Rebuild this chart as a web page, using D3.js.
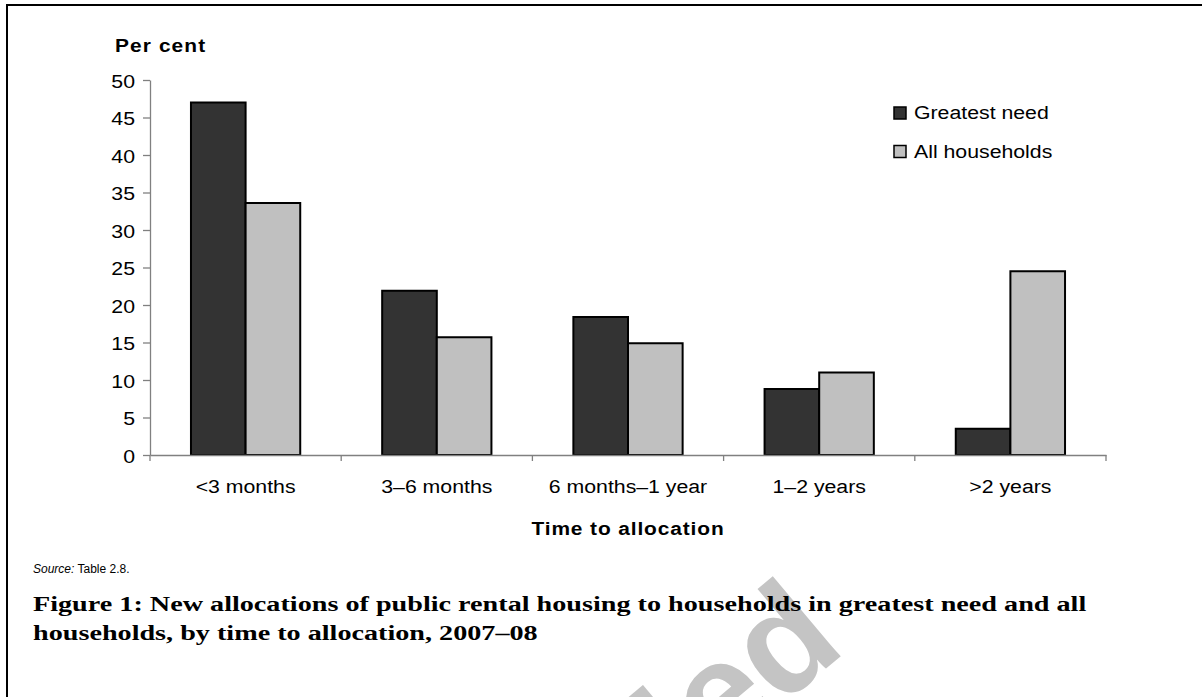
<!DOCTYPE html>
<html>
<head>
<meta charset="utf-8">
<script src="https://cdn.jsdelivr.net/npm/d3@7/dist/d3.min.js"></script>
<style>
  html, body { margin: 0; padding: 0; background: #ffffff; }
  svg { display: block; }
</style>
</head>
<body>
<svg id="chart" width="1202" height="697"></svg>
<script>
// ---- data ----
const categories = ["<3 months", "3\u20136 months", "6 months\u20131 year", "1\u20132 years", ">2 years"];
const seriesNames = ["Greatest need", "All households"];
const greatestNeed = [47.0, 21.9, 18.4, 8.8, 3.5];
const allHouseholds = [33.6, 15.7, 14.9, 11.0, 24.5];
const yTickValues = [0, 5, 10, 15, 20, 25, 30, 35, 40, 45, 50];
const yAxisTitle = "Per cent";
const xAxisTitle = "Time to allocation";
const sourceNote = ["Source:", " Table 2.8."];
const captionLines = [
  "Figure 1: New allocations of public rental housing to households in greatest need and all",
  "households, by time to allocation, 2007\u201308"
];
const watermarkText = "Cancelled";

// ---- layout/style ----
const seriesColors = ["#333333", "#c0c0c0"];
const axisColor = "#808080";
const sansFont = "Arial, 'Liberation Sans', Helvetica, sans-serif";
const serifFont = "'Palatino Linotype', 'Book Antiqua', 'Liberation Serif', 'DejaVu Serif', serif";
const sx = 1.12;   // horizontal stretch of chart text

const svg = d3.select("#chart");

// watermark (behind everything), clipped to the page like the reference
svg.append("defs").append("clipPath").attr("id", "page")
  .append("rect").attr("x", 0).attr("y", 0).attr("width", 1202).attr("height", 697);
svg.append("g").attr("clip-path", "url(#page)")
  .append("text")
  .attr("transform", "translate(848,650) rotate(-40)")
  .attr("text-anchor", "end")
  .attr("font-family", sansFont)
  .attr("font-weight", "bold")
  .attr("font-size", 145)
  .attr("fill", "#c4c4c4")
  .text(watermarkText);

// frame
svg.append("rect")
  .attr("x", 7).attr("y", 5)
  .attr("width", 1215).attr("height", 720)
  .attr("fill", "none")
  .attr("stroke", "#000")
  .attr("stroke-width", 2);

const plot = { left: 150, right: 1106, top: 80, bottom: 455 };

const x = d3.scaleBand()
  .domain(categories)
  .range([plot.left, plot.right])
  .paddingInner(0).paddingOuter(0);

const x1 = d3.scaleBand()
  .domain(seriesNames)
  .range([0, x.bandwidth()])
  .paddingInner(0)
  .paddingOuter(0.75);

const y = d3.scaleLinear()
  .domain([0, 50])
  .range([plot.bottom, plot.top]);

// bars
const rows = categories.map((c, i) => ({ cat: c, vals: [greatestNeed[i], allHouseholds[i]] }));
const groups = svg.append("g").selectAll("g")
  .data(rows).enter().append("g")
  .attr("transform", d => `translate(${x(d.cat)},0)`);

groups.selectAll("rect")
  .data(d => d.vals.map((v, j) => ({ s: seriesNames[j], v, j })))
  .enter().append("rect")
  .attr("x", d => x1(d.s))
  .attr("y", d => y(d.v))
  .attr("width", x1.bandwidth())
  .attr("height", d => y(0) - y(d.v))
  .attr("fill", d => seriesColors[d.j])
  .attr("stroke", "#000")
  .attr("stroke-width", 2);

// y axis
const yAxis = svg.append("g")
  .attr("transform", `translate(${plot.left},0)`)
  .call(d3.axisLeft(y).tickValues(yTickValues).tickSize(7).tickSizeOuter(0));
yAxis.select(".domain").attr("stroke", axisColor).attr("stroke-width", 1.3);
yAxis.selectAll(".tick line").attr("stroke", axisColor).attr("stroke-width", 1.3);
yAxis.selectAll(".tick text")
  .attr("x", null).attr("dy", null)
  .attr("transform", `translate(-15,7) scale(${sx},1)`)
  .attr("font-family", sansFont)
  .attr("font-size", 19)
  .attr("fill", "#000")
  .attr("text-anchor", "end");

// x axis (labels centred on bands)
const xAxis = svg.append("g")
  .attr("transform", `translate(0,${plot.bottom})`)
  .call(d3.axisBottom(x).tickSize(0).tickSizeOuter(0));
xAxis.select(".domain").attr("stroke", axisColor).attr("stroke-width", 1.3);
xAxis.selectAll(".tick text")
  .attr("y", null).attr("dy", null)
  .attr("transform", `translate(0,38) scale(${sx},1)`)
  .attr("font-family", sansFont)
  .attr("font-size", 19)
  .attr("fill", "#000");

// category boundary ticks
const boundaries = categories.map(c => x(c)).concat([x.range()[1]]);
svg.append("g").selectAll("line")
  .data(boundaries).enter().append("line")
  .attr("x1", d => d).attr("x2", d => d)
  .attr("y1", plot.bottom).attr("y2", plot.bottom + 6)
  .attr("stroke", axisColor).attr("stroke-width", 1.3);

// axis titles
svg.append("text")
  .attr("transform", `translate(115,52) scale(1.1,1)`)
  .attr("font-family", sansFont).attr("font-weight", "bold")
  .attr("font-size", 19).attr("letter-spacing", 1)
  .text(yAxisTitle);

svg.append("text")
  .attr("transform", `translate(${(plot.left + plot.right) / 2},535) scale(1.1,1)`)
  .attr("text-anchor", "middle")
  .attr("font-family", sansFont).attr("font-weight", "bold")
  .attr("font-size", 19).attr("letter-spacing", 0.8)
  .text(xAxisTitle);

// legend
const legend = svg.append("g").attr("transform", "translate(894,107)");
const li = legend.selectAll("g").data(seriesNames).enter().append("g")
  .attr("transform", (d, i) => `translate(0,${i * 38.5})`);
li.append("rect")
  .attr("width", 12).attr("height", 12)
  .attr("fill", (d, i) => seriesColors[i])
  .attr("stroke", "#000").attr("stroke-width", 1.5);
li.append("text")
  .attr("transform", `translate(20,12) scale(${sx},1)`)
  .attr("font-family", sansFont).attr("font-size", 19)
  .text(d => d);

// source
const src = svg.append("text")
  .attr("x", 33).attr("y", 573)
  .attr("font-family", sansFont).attr("font-size", 12);
src.append("tspan").attr("font-style", "italic").text(sourceNote[0]);
src.append("tspan").text(sourceNote[1]);

// caption
const cap = svg.append("g");
const capTexts = cap.selectAll("text").data(captionLines).enter().append("text")
  .attr("x", 0)
  .attr("y", (d, i) => i * 29)
  .attr("font-family", serifFont)
  .attr("font-weight", "bold")
  .attr("font-size", 20)
  .attr("fill", "#000")
  .text(d => d);
const firstLen = capTexts.nodes()[0].getComputedTextLength();
const k = 1054 / firstLen;
cap.attr("transform", `translate(33,611) scale(${k},1)`);
</script>
</body>
</html>
